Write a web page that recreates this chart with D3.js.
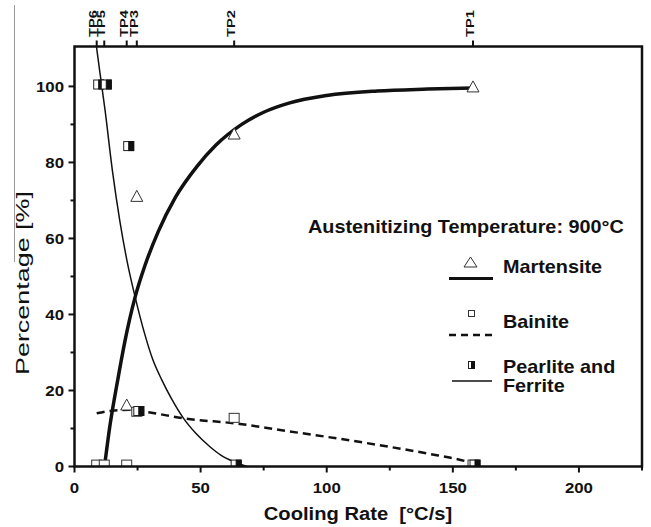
<!DOCTYPE html>
<html><head><meta charset="utf-8">
<script src="https://cdn.jsdelivr.net/npm/d3@7"></script>
<style>
html,body{margin:0;padding:0;background:#fff;}
text{font-family:"Liberation Sans",Arial,sans-serif;fill:#111;}
</style></head>
<body><svg id="chart" width="651" height="527"></svg>
<script>
// ---- data ----
const tpLabels = ["TP1","TP2","TP3","TP4","TP5","TP6"];
const tpRates  = [158, 63.3, 24.7, 20.7, 11.8, 8.8];

const martensiteX = [158, 63.3, 24.7, 20.7];
const martensiteY = [100, 87.6, 71.2, 16.3];

const bainiteX = [8.8, 11.8, 20.7, 24.7, 63.3, 158];
const bainiteY = [0.5, 0.5, 0.5, 14.4, 12.8, 0.5];

const pearliteX = [8.8, 11.8, 20.7, 24.7, 63.3, 158];
const pearliteY = [100.5, 100.5, 84.3, 14.6, 0.5, 0.5];

// fitted curves
const martCurveX = [11.9, 14, 17.2, 20, 24, 28, 33.2, 40, 48.5, 56, 66.3, 75, 85, 100, 120, 140, 158];
const martCurveY = [0, 10.5, 23, 33, 44.5, 53, 61.8, 70.8, 78.9, 84.5, 90, 93.2, 95.6, 97.6, 98.8, 99.3, 99.6];

const bainCurveX = [8.8, 15, 22, 30, 43, 65.6, 81.5, 100, 121, 140, 155.5, 158];
const bainCurveY = [14, 14.7, 14.9, 14.2, 12.7, 11.2, 9.6, 7.8, 5.6, 3.4, 1.3, 0.8];

const pearCurveX = [8.7, 10, 12.1, 15, 18, 21, 24, 28, 31, 34.6, 38.5, 43.1, 48, 53.7, 58, 63, 68.3];
const pearCurveY = [110.5, 104, 93.8, 78, 64.5, 53.5, 44.7, 34.5, 28.2, 22.8, 17.8, 12.8, 8.8, 5.2, 3, 1.3, 0];

const xMajor = [0, 50, 100, 150, 200];
const xMinor = [25, 75, 125, 175, 225];
const yMajor = [0, 20, 40, 60, 80, 100];
const yMinor = [10, 30, 50, 70, 90];

const legendTitle = "Austenitizing Temperature: 900°C";
const legendItems = ["Martensite", "Bainite", "Pearlite and|Ferrite"];

// ---- drawing ----
const svg = d3.select("#chart");
const L = 74.5, R = 642, T = 46.5, B = 466.5;
const x = d3.scaleLinear().domain([0, 225]).range([L, R]);
const y = d3.scaleLinear().domain([0, 110.5]).range([B, T]);
const K = 1.12;
function stretch(sel){ sel.each(function(){ const l=this.getComputedTextLength(); d3.select(this).attr("textLength", l*K).attr("lengthAdjust","spacingAndGlyphs");}); return sel; }

// stray grey line at far left
svg.append("line").attr("x1",14.5).attr("x2",14.5).attr("y1",5).attr("y2",262).attr("stroke","#999").attr("stroke-width",1);

svg.append("defs").append("clipPath").attr("id","clip").append("rect")
  .attr("x",L).attr("y",T).attr("width",R-L).attr("height",B-T);

const ink = "#111";
// curves
const line = d3.line().x(d=>x(d[0])).y(d=>y(d[1])).curve(d3.curveMonotoneX);
const plot = svg.append("g").attr("clip-path","url(#clip)");
plot.append("path").datum(d3.zip(pearCurveX, pearCurveY)).attr("d", line)
  .attr("fill","none").attr("stroke",ink).attr("stroke-width",1.5);
plot.append("path").datum(d3.zip(bainCurveX, bainCurveY)).attr("d", line)
  .attr("fill","none").attr("stroke",ink).attr("stroke-width",2.5).attr("stroke-dasharray","8,5");
plot.append("path").datum(d3.zip(martCurveX, martCurveY)).attr("d", line)
  .attr("fill","none").attr("stroke",ink).attr("stroke-width",3.5);

// markers
function tri(g, cx, cy, w, h){
  g.append("path").attr("d", `M${cx-w/2},${cy+h/2}L${cx},${cy-h/2}L${cx+w/2},${cy+h/2}Z`)
   .attr("fill","#fff").attr("stroke","#333").attr("stroke-width",1);
}
function sq(g, cx, cy, w, h){
  g.append("rect").attr("x",cx-w/2).attr("y",cy-h/2).attr("width",w).attr("height",h)
   .attr("fill","#fff").attr("stroke","#333").attr("stroke-width",1);
}
function half(g, cx, cy, w, h){
  g.append("rect").attr("x",cx-w/2).attr("y",cy-h/2).attr("width",w).attr("height",h)
   .attr("fill","#fff").attr("stroke","#222").attr("stroke-width",1);
  g.append("rect").attr("x",cx).attr("y",cy-h/2).attr("width",w/2).attr("height",h)
   .attr("fill","#111").attr("stroke","#111").attr("stroke-width",1);
}
const mk = svg.append("g").attr("clip-path","url(#clip)");
martensiteX.forEach((v,i)=>tri(mk, x(v), y(martensiteY[i]), 12, 11));
bainiteX.forEach((v,i)=>sq(mk, x(v), y(bainiteY[i]), 10, 9));
pearliteX.forEach((v,i)=>half(mk, x(v)+2, y(pearliteY[i]), 10, 9));

// axes frame
const fr = svg.append("g").attr("stroke",ink).attr("stroke-width",2.5).attr("fill","none");
fr.append("path").attr("d",`M${L},${T}H${R}V${B}H${L}Z`);
const ax = svg.append("g").attr("stroke",ink).attr("stroke-width",2);
yMajor.forEach(v=>ax.append("line").attr("x1",L).attr("x2",L-6).attr("y1",y(v)).attr("y2",y(v)));
yMinor.forEach(v=>ax.append("line").attr("x1",L).attr("x2",L-4).attr("y1",y(v)).attr("y2",y(v)));
xMajor.forEach(v=>ax.append("line").attr("x1",x(v)).attr("x2",x(v)).attr("y1",B).attr("y2",B+6));
xMinor.forEach(v=>ax.append("line").attr("x1",x(v)).attr("x2",x(v)).attr("y1",B).attr("y2",B+4));
tpRates.forEach(v=>ax.append("line").attr("x1",x(v)).attr("x2",x(v)).attr("y1",T).attr("y2",T-6));

// tick labels
svg.append("g").selectAll("text").data(yMajor).join("text")
  .attr("x", 64).attr("y", d=>y(d)).attr("dy","0.36em").attr("text-anchor","end")
  .attr("font-size",15).attr("font-weight","bold").text(d=>d).call(stretch);
svg.append("g").selectAll("text").data(xMajor).join("text")
  .attr("x", d=>x(d)).attr("y", 493).attr("text-anchor","middle")
  .attr("font-size",15).attr("font-weight","bold").text(d=>d).call(stretch);
svg.append("g").selectAll("text").data(tpLabels).join("text")
  .attr("transform",(d,i)=>`translate(${x(tpRates[i])+0.8},37) rotate(-90)`)
  .attr("font-size",11.5).attr("font-weight","bold").attr("textLength",27).attr("lengthAdjust","spacingAndGlyphs")
  .text(d=>d);

// axis titles
svg.append("text").attr("x",358).attr("y",520).attr("text-anchor","middle")
  .attr("font-size",18).attr("font-weight","bold").style("white-space","pre")
  .text("Cooling Rate  [°C/s]").call(stretch);
svg.append("text").attr("transform","translate(29,283) rotate(-90)").attr("text-anchor","middle")
  .attr("font-size",19).attr("textLength",184).attr("lengthAdjust","spacingAndGlyphs")
  .text("Percentage [%]");

// legend
svg.append("text").attr("x",308).attr("y",233).attr("font-size",17.7).attr("font-weight","bold")
  .text(legendTitle).call(stretch);
const lg = svg.append("g");
const rows = [272.7, 328.3, 373.3];
legendItems.forEach((t,i)=>{
  t.split("|").forEach((s,j)=>{
    lg.append("text").attr("x",503).attr("y",rows[i]+j*18.4).attr("font-size",17.7).attr("font-weight","bold")
      .text(s).call(stretch);
  });
});
tri(lg, 470.5, 262, 13, 10);
lg.append("line").attr("x1",449).attr("x2",493).attr("y1",278.5).attr("y2",278.5).attr("stroke",ink).attr("stroke-width",3);
sq(lg, 471.5, 313.5, 6, 6);
lg.append("line").attr("x1",449).attr("x2",493).attr("y1",335).attr("y2",335).attr("stroke",ink).attr("stroke-width",2.5).attr("stroke-dasharray","7,5");
half(lg, 471.5, 365, 6, 7);
lg.append("line").attr("x1",452).attr("x2",492).attr("y1",381).attr("y2",381).attr("stroke",ink).attr("stroke-width",1.5);
</script></body></html>
